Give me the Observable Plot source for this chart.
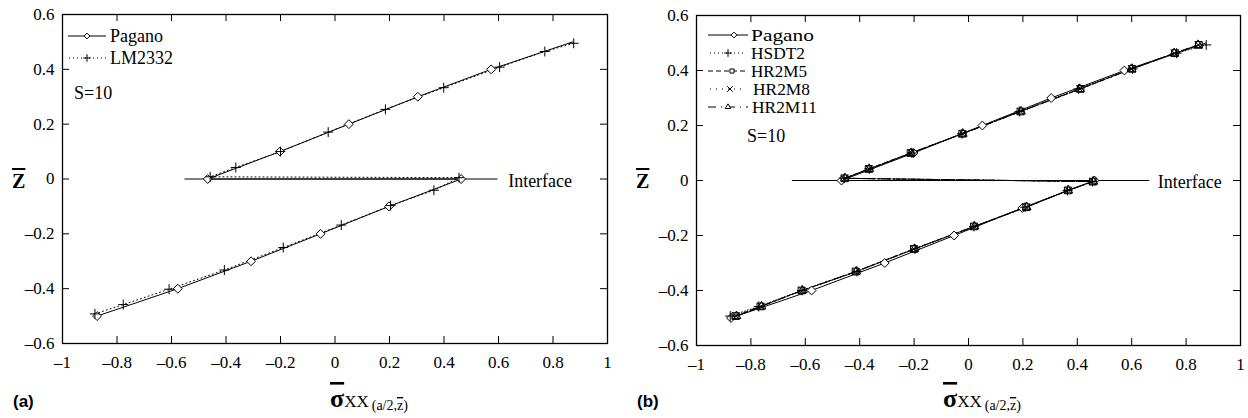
<!DOCTYPE html>
<html><head><meta charset="utf-8">
<script src="https://cdn.jsdelivr.net/npm/d3@7"></script>
<script src="https://cdn.jsdelivr.net/npm/@observablehq/plot@0.6"></script>
<style>
body{margin:0;background:#fff;}
#wrap{display:flex;width:1248px;height:418px;overflow:hidden;}
svg{display:block}
#wrap svg text, #wrap svg tspan {font-family: "Liberation Serif", "DejaVu Serif", serif;}
#wrap svg text.tag {font-family: "Liberation Sans", Arial, sans-serif; font-weight: bold;}
</style></head><body><div id="wrap"></div>
<script>
// ---- data ----
const xTicks = [-1, -0.8, -0.6, -0.4, -0.2, 0, 0.2, 0.4, 0.6, 0.8, 1];
const zTicks = [-0.6, -0.4, -0.2, 0, 0.2, 0.4, 0.6];

const zPagano = [-0.5, -0.4, -0.3, -0.2, -0.1, 0, 0, 0.1, 0.2, 0.3, 0.4, 0.5];
const xPagano = [-0.873, -0.577, -0.308, -0.053, 0.198, 0.463, -0.467, -0.202, 0.051, 0.304, 0.573, 0.872];

const zLM2332 = [-0.492, -0.458, -0.402, -0.332, -0.25, -0.168, -0.097, -0.041, 0.005, 0.008, 0.042, 0.1, 0.171, 0.254, 0.333, 0.408, 0.465, 0.495];
const xLM2332 = [-0.881, -0.777, -0.609, -0.406, -0.19, 0.023, 0.204, 0.363, 0.455, -0.458, -0.364, -0.2, -0.025, 0.185, 0.399, 0.604, 0.77, 0.876];

const zModels = [-0.493, -0.458, -0.4, -0.331, -0.249, -0.167, -0.097, -0.036, -0.004, 0.008, 0.042, 0.1, 0.17, 0.251, 0.333, 0.406, 0.463, 0.493];
const xHSDT2  = [-0.876, -0.771, -0.612, -0.41, -0.197, 0.02, 0.208, 0.364, 0.456, -0.457, -0.365, -0.208, -0.024, 0.188, 0.405, 0.603, 0.765, 0.874];
const xHR2M5  = [-0.857, -0.765, -0.614, -0.415, -0.201, 0.02, 0.212, 0.365, 0.457, -0.456, -0.367, -0.213, -0.023, 0.191, 0.412, 0.602, 0.759, 0.847];
const xHR2M8  = [-0.855, -0.763, -0.612, -0.414, -0.2, 0.021, 0.213, 0.366, 0.458, -0.455, -0.366, -0.212, -0.022, 0.192, 0.41, 0.6, 0.757, 0.845];
const xHR2M11 = [-0.853, -0.761, -0.611, -0.413, -0.199, 0.022, 0.214, 0.367, 0.459, -0.454, -0.365, -0.211, -0.021, 0.193, 0.409, 0.599, 0.756, 0.844];

const interfaceA = [-0.551, 0.595];
const interfaceB = [-0.648, 0.663];

// ---- helpers ----
const W = 624, H = 418;
const FF = "Liberation Serif";
const TICK_FS = 17;
const fmt = d => d === 0 ? "0" : (d < 0 ? "\u2013" : "") + String(Math.abs(d));
const rows = (xs, zs) => xs.map((x, i) => ({x, z: zs[i]}));

const symMap = {
  diamond: d3.symbolDiamond2, plus: d3.symbolPlus, square: d3.symbolSquare2,
  times: d3.symbolTimes, triangle: d3.symbolTriangle2
};
const plotSym = {diamond: "diamond2", plus: "plus", square: "square2", times: "times", triangle: "triangle2"};
const symR = {diamond: 4, plus: 3.3, square: 4.3, times: 3.4, triangle: 4.2};

function panel(cfg) {
  const {ml, mr, mt, mb, series, iface, ifaceDx} = cfg;
  const plotH = H - mt - mb, plotW = W - ml - mr;
  const inner = xTicks.slice(1, -1), innerZ = zTicks.slice(1, -1);
  const marks = [
    Plot.tickX(inner, {x: d => d, stroke: "black", insetTop: plotH - 7}),
    Plot.tickX(inner, {x: d => d, stroke: "black", insetBottom: plotH - 7}),
    Plot.tickY(innerZ, {y: d => d, stroke: "black", insetRight: plotW - 7}),
    Plot.tickY(innerZ, {y: d => d, stroke: "black", insetLeft: plotW - 7}),
    Plot.axisX(xTicks, {anchor: "bottom", tickSize: 0, tickPadding: 12, tickFormat: fmt, label: null, fontSize: TICK_FS, fontFamily: FF}),
    Plot.axisY(zTicks, {anchor: "left", tickSize: 0, tickPadding: 8, tickFormat: fmt, label: null, fontSize: TICK_FS, fontFamily: FF}),
    Plot.line(rows(iface, [0, 0]), {x: "x", y: "z", stroke: "black", strokeWidth: 1}),
    Plot.text([{x: iface[1], z: 0}], {x: "x", y: "z", text: () => "Interface", textAnchor: "start", dx: ifaceDx, dy: 2, fontSize: 18, fontFamily: FF, fill: "black"})
  ];
  for (const s of series) {
    const data = rows(s.x, s.z);
    marks.push(Plot.line(data, {x: "x", y: "z", stroke: "black", strokeWidth: 1, strokeDasharray: s.dash || null}));
  }
  for (const s of series) {
    // the Pagano curve has no marker drawn at its top end (z = 0.5)
    const data = rows(s.x, s.z).filter(d => !(s.sym === "diamond" && d.z >= 0.5));
    marks.push(Plot.dot(data, {x: "x", y: "z", symbol: plotSym[s.sym], r: symR[s.sym], stroke: "black", strokeWidth: 1,
      fill: s.sym === "diamond" ? "white" : "none"}));
  }
  marks.push(Plot.frame({stroke: "black", strokeWidth: 1.3}));
  const el = Plot.plot({
    width: W, height: H, marginLeft: ml, marginRight: mr, marginTop: mt, marginBottom: mb,
    x: {domain: [-1, 1], axis: null}, y: {domain: [-0.6, 0.6], axis: null},
    style: {fontFamily: FF, fontSize: TICK_FS + "px", color: "black", background: "white"},
    marks
  });
  // make sure the tick labels get their size on the text elements themselves
  el.querySelectorAll("g[aria-label$='tick label'] text").forEach(t => {
    t.setAttribute("font-size", TICK_FS);
    t.style.fontSize = TICK_FS + "px";
  });
  return el;
}

function decorate(svgEl, cfg) {
  const svg = d3.select(svgEl);
  const g = svg.append("g").attr("fill", "black").attr("text-anchor", "start");
  cfg.legend.forEach((L, i) => {
    const y = cfg.legY[i];
    g.append("line").attr("x1", L.x1).attr("x2", L.x2).attr("y1", y).attr("y2", y)
      .attr("stroke", "black").attr("stroke-width", 1).attr("stroke-dasharray", L.dash || null);
    g.append("path").attr("d", d3.symbol(symMap[L.sym], Math.PI * 2.6 * 2.6)())
      .attr("transform", `translate(${L.mx},${y})`).attr("stroke", "black").attr("stroke-width", 1)
      .attr("fill", "white");
    const t = g.append("text").attr("x", cfg.legTx + (L.tdx || 0)).attr("y", y + 5.5).attr("font-size", cfg.legFs).text(L.label);
    if (L.w) t.attr("textLength", L.w).attr("lengthAdjust", "spacingAndGlyphs");
  });
  g.append("text").attr("x", cfg.sX).attr("y", cfg.sY).attr("font-size", 18).text("S=10");
  g.append("text").attr("x", cfg.zX).attr("y", 188).attr("font-size", 20).attr("font-weight", "bold")
    .style("text-decoration", "overline").text("Z");
  const t = g.append("text").attr("x", cfg.sigX).attr("y", 407);
  t.append("tspan").attr("font-size", 26).attr("font-weight", "bold").style("text-decoration", "overline").text("\u03C3");
  t.append("tspan").attr("font-size", 17).text("XX");
  t.append("tspan").attr("font-size", 14).attr("dx", 3).attr("dy", 3).text("(a/2,");
  t.append("tspan").attr("font-size", 14).style("text-decoration", "overline").text("z");
  t.append("tspan").attr("font-size", 14).text(")");
  g.append("text").attr("class", "tag").attr("x", 13).attr("y", 407).attr("font-size", 17).text(cfg.tag);
}

const wrap = document.getElementById("wrap");

const cfgA = {
  ml: 62, mr: 17, mt: 14, mb: 75, iface: interfaceA, ifaceDx: 11,
  series: [
    {x: xPagano, z: zPagano, sym: "diamond", dash: null},
    {x: xLM2332, z: zLM2332, sym: "plus", dash: "1,3"}
  ],
  legend: [
    {label: "Pagano", sym: "diamond", x1: 68, x2: 106, mx: 87, dash: null},
    {label: "LM2332", sym: "plus", x1: 69, x2: 106, mx: 87, dash: "1,3"}
  ],
  legY: [36, 58], legTx: 110, legFs: 18, sX: 74, sY: 99, zX: 12, sigX: 330, tag: "(a)"
};
const a = panel(cfgA); decorate(a, cfgA); wrap.appendChild(a);

const cfgB = {
  ml: 72, mr: 8, mt: 15, mb: 73, iface: interfaceB, ifaceDx: 9,
  series: [
    {x: xPagano, z: zPagano, sym: "diamond", dash: null},
    {x: xHSDT2, z: zModels, sym: "plus", dash: "1,2"},
    {x: xHR2M5, z: zModels, sym: "square", dash: "5,3"},
    {x: xHR2M8, z: zModels, sym: "times", dash: "1,4"},
    {x: xHR2M11, z: zModels, sym: "triangle", dash: "8,3,1,3"}
  ],
  legend: [
    {label: "Pagano", sym: "diamond", x1: 84, x2: 124, mx: 110, dash: null, w: 63},
    {label: "HSDT2", sym: "plus", x1: 86, x2: 119, mx: 104, dash: "1,3", w: 54},
    {label: "HR2M5", sym: "square", x1: 84, x2: 124, mx: 108, dash: "5,3", w: 56},
    {label: "HR2M8", sym: "times", x1: 86, x2: 122, mx: 106, dash: "1,5", w: 57, tdx: 2},
    {label: "HR2M11", sym: "triangle", x1: 84, x2: 124, mx: 104, dash: "8,5,1,5", w: 65, tdx: 1}
  ],
  legY: [35, 53, 71, 89, 107], legTx: 127, legFs: 17.5, sX: 123, sY: 142, zX: 12, sigX: 319, tag: "(b)"
};
const b = panel(cfgB); decorate(b, cfgB); wrap.appendChild(b);
</script>
</body></html>
